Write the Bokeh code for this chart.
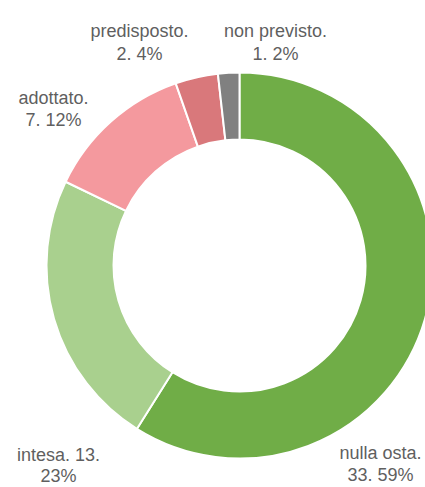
import math
from bokeh.plotting import figure
from bokeh.models import Range1d, ColumnDataSource
from bokeh.embed import file_html
from bokeh.resources import INLINE
from bokeh.core.properties import value

# ---- data ----
categories = ["nulla osta", "intesa", "adottato", "predisposto", "non previsto"]
counts = [33, 13, 7, 2, 1]
percents = [59, 23, 12, 4, 2]
colors = ["#70AD47", "#A9D08E", "#F4999E", "#D9787B", "#808080"]

# ---- layout ----
W, H = 425, 487
def X(sx):
    return sx
def Y(sy):
    return H - sy

cx, cy = X(239), Y(265)
r_out, r_in = 193, 126

total = sum(counts)
starts, ends = [], []
acc = 0
for c in counts:
    starts.append(math.pi / 2 - 2 * math.pi * acc / total)
    acc += c
    ends.append(math.pi / 2 - 2 * math.pi * acc / total)

p = figure(width=W, height=H, output_backend="svg", toolbar_location=None,
           x_range=Range1d(0, W), y_range=Range1d(0, H),
           x_axis_type=None, y_axis_type=None, min_border=0,
           outline_line_color=None, background_fill_color="white",
           border_fill_color="white")
p.grid.visible = False

src = ColumnDataSource(dict(start=starts, end=ends, color=colors,
                            x=[cx] * len(counts), y=[cy] * len(counts)))
p.annular_wedge(x="x", y="y", inner_radius=r_in, outer_radius=r_out,
                start_angle="start", end_angle="end", direction="clock",
                fill_color="color", line_color="white", line_width=2, source=src)

# label text built from data; wrap style per label
wrap_after_value = [False, True, False, False, False]
line1, line2 = [], []
for cat, n, pc, w in zip(categories, counts, percents, wrap_after_value):
    if w:
        line1.append(f"{cat}. {n}.")
        line2.append(f"{pc}%")
    else:
        line1.append(f"{cat}.")
        line2.append(f"{n}. {pc}%")

# label positions (screen px: center x, baseline y of line 1 and line 2)
lab_x = [380, 58, 53, 139, 275]
lab_y1 = [452, 454, 97, 30, 30]
lab_y2 = [474, 475, 119, 53, 53]

tsrc = ColumnDataSource(dict(
    x=[X(v) for v in lab_x], y1=[Y(v) for v in lab_y1], y2=[Y(v) for v in lab_y2],
    t1=line1, t2=line2))
for yc, tc in (("y1", "t1"), ("y2", "t2")):
    p.text(x="x", y=yc, text=tc, source=tsrc, text_align="center",
           text_baseline="alphabetic", text_font=value("Liberation Sans"),
           text_font_size="18px", text_color="#5f5f5f")

open("out.html", "w").write(file_html(p, INLINE))
